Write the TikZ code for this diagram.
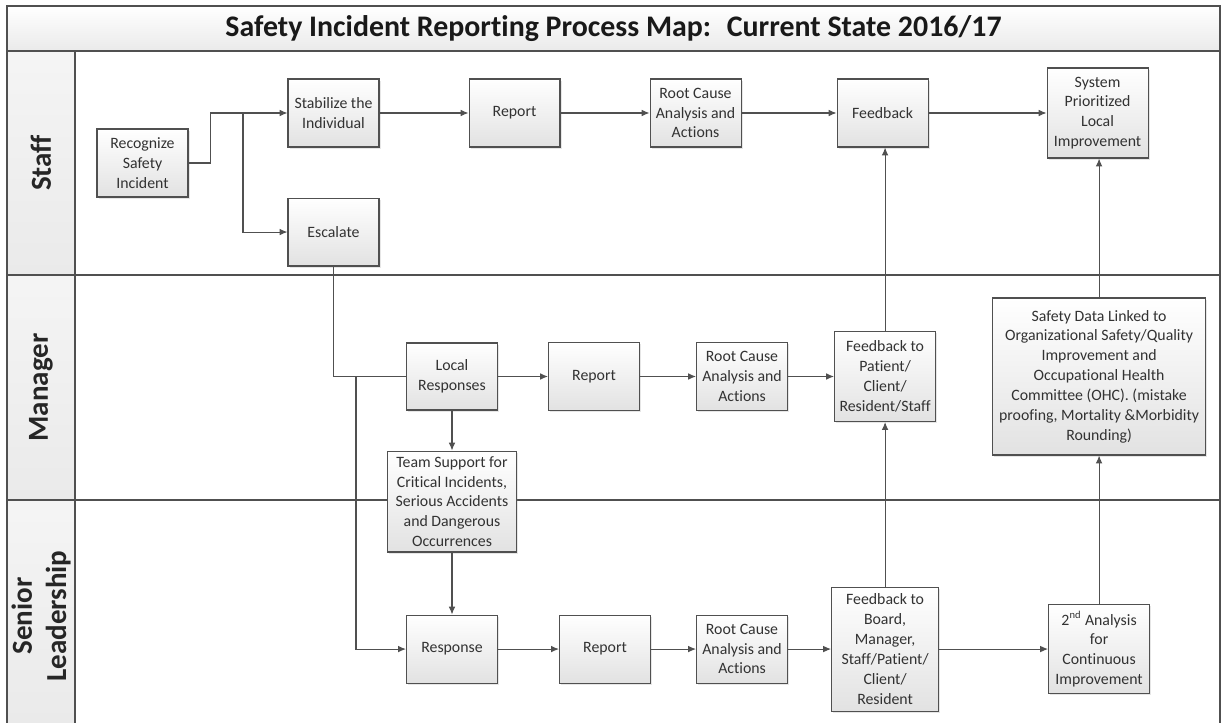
\documentclass[tikz,border=0pt]{standalone}
\usepackage{fontspec}
\setmainfont{Carlito}[Ligatures=NoCommon]
\usetikzlibrary{arrows.meta,positioning,shadows}
\definecolor{linegray}{RGB}{80,80,80}
\definecolor{boxfill}{RGB}{226,226,226}
\definecolor{lanefill}{RGB}{234,234,234}
\definecolor{textgray}{RGB}{50,50,50}
\newcommand{\procfont}{\fontsize{9}{11.3}\selectfont}
\newcommand{\lanefont}{\fontsize{16.5}{19.5}\selectfont\bfseries}

\begin{document}
\begin{tikzpicture}[x=0.02cm,y=-0.02cm,>={Latex[length=4.5pt,width=3.8pt]},
  procbox/.style={draw=linegray,line width=0.6pt,top color=white,bottom color=boxfill,align=center,font=\procfont,text=textgray,inner sep=1pt,minimum width=1.82cm,minimum height=1.36cm,drop shadow={opacity=0.2,shadow xshift=1pt,shadow yshift=-1pt}},
  flow/.style={->,draw=linegray,line width=0.6pt},
  link/.style={draw=linegray,line width=0.6pt},
  lanelabel/.style={rotate=90,font=\lanefont,text=black!85,align=center}]
\useasboundingbox (0,0) rectangle (1224,723);
% swimlane frame
\shade[top color=white,bottom color=lanefill] (7,6) rectangle (1220,51);
\shade[top color=white!50!lanefill,bottom color=lanefill] (7,51) rectangle (75,275);
\shade[top color=white!50!lanefill,bottom color=lanefill] (7,275) rectangle (75,500);
\shade[top color=white!50!lanefill,bottom color=lanefill] (7,500) rectangle (75,723);
\draw[link,line width=0.8pt] (7,723) -- (7,6) -- (1220,6) -- (1220,723);
\draw[link,line width=0.8pt] (7,51) -- (1220,51);
\draw[link,line width=0.8pt] (7,275) -- (1220,275);
\draw[link,line width=0.8pt] (7,500) -- (1220,500);
\draw[link,line width=0.8pt] (75,51) -- (75,723);
\node[font=\fontsize{17}{20}\selectfont\bfseries,text=black!90] (title) at (613.5,28.5) {Safety Incident Reporting Process Map:~ Current State 2016/17};
\node[lanelabel] (staff) at (41,163) {Staff};
\node[lanelabel] (manager) at (41,387.5) {Manager};
\node[lanelabel] (senior) at (41,616) {Senior\\Leadership};
% staff
\node[procbox] (recog) at (142.5,163) {Recognize\\Safety\\Incident};
\node[procbox] (stab) at (333.5,113) {Stabilize the\\Individual};
\node[procbox,below=1.0cm of stab] (esc) {Escalate};
\node[procbox,right=1.78cm of stab] (reps) {Report};
\node[procbox,right=1.78cm of reps] (rcas) {Root Cause\\Analysis and\\Actions};
\node[procbox,right=1.9cm of rcas] (fbs) {Feedback};
\node[procbox,minimum width=2.02cm,minimum height=1.8cm,right=2.36cm of fbs] (sysimp) {System\\Prioritized\\Local\\Improvement};
% manager
\node[procbox,minimum height=1.34cm] (locresp) at (452,376.5) {Local\\Responses};
\node[procbox,right=1.0cm of locresp] (repm) {Report};
\node[procbox,right=1.12cm of repm] (rcam) {Root Cause\\Analysis and\\Actions};
\node[procbox,minimum width=2.02cm,minimum height=1.8cm,right=0.92cm of rcam] (fbm) {Feedback to\\Patient/\\Client/\\Resident/Staff};
\node[procbox,minimum width=4.26cm,minimum height=3.14cm,right=1.12cm of fbm] (safedata) {Safety Data Linked to\\Organizational Safety/Quality\\Improvement and\\Occupational Health\\Committee (OHC). (mistake\\proofing, Mortality \&Morbidity\\Rounding)};
\node[procbox,minimum width=2.58cm,minimum height=2.02cm,below=0.8cm of locresp] (team) {Team Support for\\Critical Incidents,\\Serious Accidents\\and Dangerous\\Occurrences};
% senior leadership
\node[procbox,below=1.24cm of team] (resp) {Response};
\node[procbox,right=1.22cm of resp] (repsl) {Report};
\node[procbox,right=0.9cm of repsl] (rcasl) {Root Cause\\Analysis and\\Actions};
\node[procbox,minimum width=2.14cm,minimum height=2.48cm,right=0.86cm of rcasl] (fbsl) {Feedback to\\Board,\\Manager,\\Staff/Patient/\\Client/\\Resident};
\node[procbox,minimum width=2.02cm,minimum height=1.78cm,right=2.18cm of fbsl] (anal2) {2\textsuperscript{nd} Analysis\\for\\Continuous\\Improvement};
% connectors
\coordinate (fork1) at (243,113);
\coordinate (fork2) at (356,376.5);
\draw[flow] (recog.east) -- ++(22,0) |- (stab.west);
\draw[flow] (fork1) |- (esc.west);
\draw[flow] (stab) -- (reps);
\draw[flow] (reps) -- (rcas);
\draw[flow] (rcas) -- (fbs);
\draw[flow] (fbs) -- (sysimp);
\draw[link] (esc.south) |- (locresp.west);
\draw[flow] (fork2) |- (resp.west);
\draw[flow] (locresp) -- (repm);
\draw[flow] (repm) -- (rcam);
\draw[flow] (rcam) -- (fbm);
\draw[flow] (locresp) -- (team);
\draw[flow] (team) -- (resp);
\draw[flow] (resp) -- (repsl);
\draw[flow] (repsl) -- (rcasl);
\draw[flow] (rcasl) -- (fbsl);
\draw[flow] (fbsl) -- (anal2);
\draw[flow] (fbsl.north) -- (fbsl.north |- fbm.south);
\draw[flow] (fbm.north) -- (fbm.north |- fbs.south);
\draw[flow] (anal2.north) -- (anal2.north |- safedata.south);
\draw[flow] (safedata.north) -- (safedata.north |- sysimp.south);
\end{tikzpicture}
\end{document}
